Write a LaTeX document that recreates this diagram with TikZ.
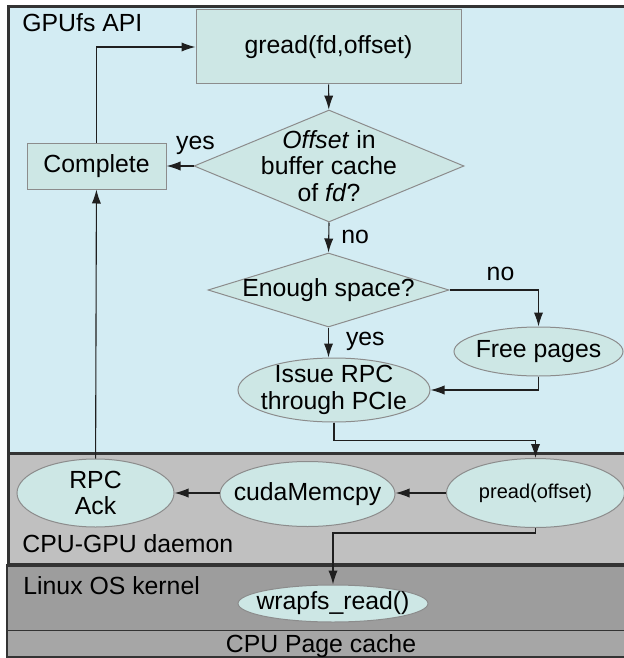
\documentclass[tikz,border=0pt]{standalone}
\usepackage{fontspec}
\setmainfont{Liberation Sans}
\usetikzlibrary{shapes.geometric,arrows.meta}
\definecolor{apiblue}{HTML}{D3ECF3}
\definecolor{boxfill}{HTML}{CDE7E5}
\definecolor{boxline}{HTML}{8C8C8C}
\definecolor{daemongray}{HTML}{C0C0C0}
\definecolor{kernelgray}{HTML}{9D9D9D}
\definecolor{cachegray}{HTML}{A6A6A6}
\definecolor{frameline}{HTML}{333333}

\begin{document}
\begin{tikzpicture}[x=0.5pt, y=-0.5pt,
    font=\fontsize{12.4}{13.4}\selectfont,
    >={Latex[length=7pt,width=4.6pt]},
    flow/.style={->, draw=black!88, line width=0.55pt},
    proc/.style={rectangle, draw=boxline, fill=boxfill, line width=0.5pt},
    decision/.style={diamond, draw=boxline, fill=boxfill, line width=0.5pt,
      inner sep=0pt},
    oval/.style={ellipse, draw=boxline, fill=boxfill, line width=0.5pt,
      inner sep=0pt},
    layer/.style={draw=frameline, line width=1.6pt},
    thinlayer/.style={draw=frameline, line width=0.6pt},
    tag/.style={inner sep=1pt}
  ]
  % Picture size, in pixels of the reference (1px = 0.5pt, y downwards)
  \useasboundingbox (0,0) rectangle (623,658);

  % The layers, drawn from the bottom up so the thick frames stay on top
  \draw[thinlayer, fill=kernelgray] (7,565) rectangle (650,630.5);
  \draw[thinlayer, fill=cachegray] (7,630.5) rectangle (650,657);
  \draw[layer, fill=daemongray] (8.5,453.5) rectangle (650,565);
  \draw[layer, fill=apiblue] (8.5,6.5) rectangle (650,453.5);

  \node[tag, anchor=base west] (apilabel) at (20,32) {GPUfs API};
  \node[tag, anchor=base west] (daemonlabel) at (20,552) {CPU-GPU daemon};
  \node[tag, anchor=base west] (kernellabel) at (21,594) {Linux OS kernel};
  \node[tag, anchor=base] (cachelabel) at (321,652) {CPU Page cache};

  % GPU side
  \node[proc, minimum width=132.5pt, minimum height=37pt] (gread)
    at (328.5,47) {gread(fd,offset)};
  \node[decision, minimum width=135pt, minimum height=56pt,
    label={[align=center]center:{\textit{Offset} in\\buffer cache\\of \textit{fd}?}}]
    (incache) at (329,166) {};
  \node[proc, minimum width=69.5pt, minimum height=23pt] (complete)
    at (96.5,166) {Complete};
  \node[decision, minimum width=120.5pt, minimum height=37pt,
    label=center:{Enough space?}] (space) at (328.5,290) {};
  \node[oval, minimum width=84.5pt, minimum height=24.5pt,
    label=center:{Free pages}] (freepages) at (538.5,351.5) {};
  \node[oval, minimum width=96pt, minimum height=32pt,
    label={[align=center]center:{Issue RPC\\through PCIe}}] (issue)
    at (334,390) {};

  % CPU side
  \node[oval, minimum width=89pt, minimum height=34.5pt,
    label={[font=\fontsize{10}{12}\selectfont]center:{pread(offset)}}]
    (pread) at (535.5,493) {};
  \node[oval, minimum width=87.5pt, minimum height=32.5pt,
    label=center:{cudaMemcpy}] (cuda) at (307.5,494) {};
  \node[oval, minimum width=78.5pt, minimum height=34pt,
    label={[align=center]center:{RPC\\Ack}}] (rpcack) at (95.5,493) {};
  \node[oval, minimum width=95pt, minimum height=18.5pt,
    label=center:{wrapfs\_read()}] (wrapfs) at (333,603.5) {};

  % Connectors
  \draw[flow] (gread) -- (incache);
  \draw[flow] (incache.west) -- (complete.east)
    node[tag, pos=0, anchor=base, xshift=1pt, yshift=8.5pt] {yes};
  \draw[flow] (complete.north) |- (gread.west);
  \draw[flow] (incache.south) -- (space.north)
    node[tag, pos=.5, anchor=base west, xshift=5pt, yshift=-2.75pt] {no};
  \draw[flow] (space.east) -| (freepages.north)
    node[tag, pos=.25, anchor=base, xshift=3.25pt, yshift=5pt] {no};
  \draw[flow] (space.south) -- (space.south |- issue.north)
    node[tag, pos=.5, anchor=base west, xshift=7.5pt, yshift=-1.25pt] {yes};
  \draw[flow] (freepages.south) |- (issue.east);
  \draw[flow] (issue.south) -- ++(0,18) -| (pread.north);
  \draw[flow] (pread.west) -- (cuda.east |- pread.west);
  \draw[flow] (cuda.west |- pread.west) -- (rpcack.east);
  \draw[flow] (pread.south) -- ++(0,5) -| (wrapfs.north);
  \draw[flow] (rpcack) -- (complete);
\end{tikzpicture}
\end{document}
